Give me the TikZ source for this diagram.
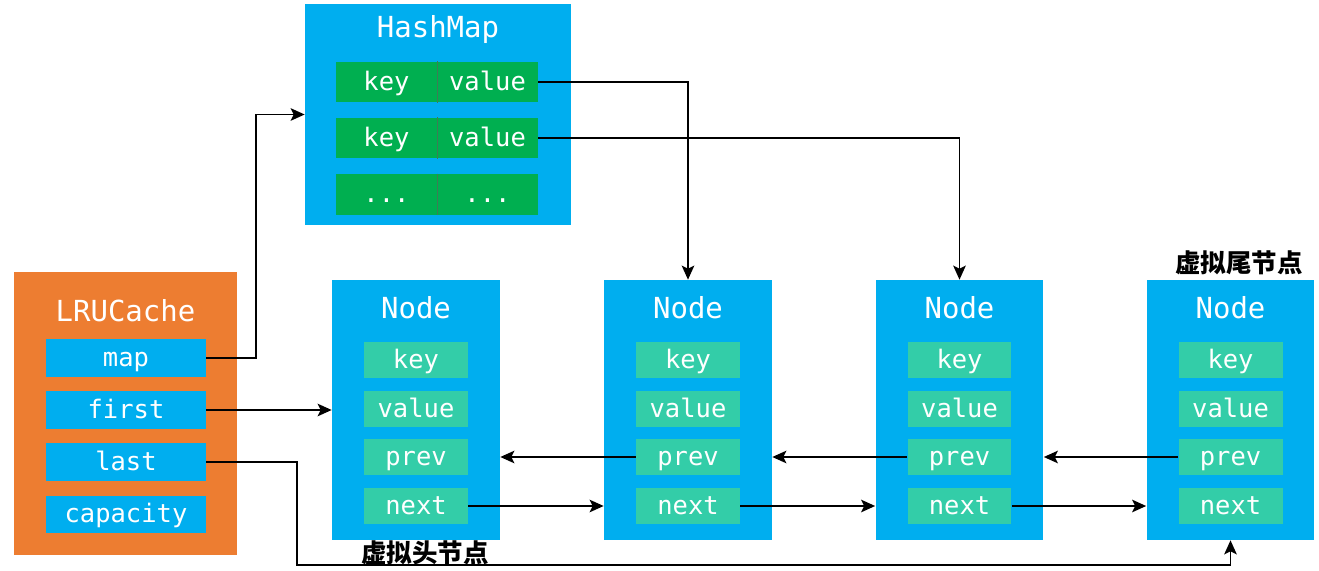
\documentclass[tikz,border=0pt]{standalone}
\usepackage{fontspec}
\setmonofont{DejaVu Sans Mono}
\newfontfamily\cjk{Noto Sans CJK SC}
\usetikzlibrary{arrows.meta, calc}
\definecolor{panelblue} {HTML}{00AEEF}
\definecolor{cacheorange}{HTML}{ED7D31}
\definecolor{mapgreen}  {HTML}{00AF50}
\definecolor{fieldteal} {HTML}{33CDA8}
\definecolor{divider}   {HTML}{3E7D55}

\tikzset{
  panel/.style={fill=panelblue, inner sep=0pt},
  title/.style={text=white, font=\ttfamily\fontsize{16.5}{18}\selectfont},
  field/.style={fill=fieldteal, text=white, inner sep=0pt,
    minimum width=2.08cm, minimum height=0.72cm,
    text height=9.5pt, text depth=0pt,
    font=\ttfamily\fontsize{14.5}{16}\selectfont},
  cachefield/.style={field, fill=panelblue, minimum width=3.2cm, minimum height=0.76cm},
  mapcell/.style={field, fill=mapgreen, minimum width=2.02cm, minimum height=0.82cm},
  link/.style={draw=black, line width=1.1pt, -{Stealth[length=2.8mm, width=2.5mm, inset=0.6mm]}},
  tag/.style={font=\cjk\bfseries\fontsize{14.5}{16}\selectfont}
}

\begin{document}
\begin{tikzpicture}[x=0.02cm, y=-0.02cm]
    \useasboundingbox (0, 0) rectangle (1319, 571);

    % --- LRUCache -----------------------------------------------------------
    \node[panel, fill=cacheorange, minimum width=4.46cm, minimum height=5.66cm] (lru) at (125.5, 413.5) {};
    \node[title] (lrutitle) at (125.5, 311) {LRUCache};
    \node[cachefield] (lmap)   at (126, 358)   {map};
    \node[cachefield] (lfirst) at (126, 410)   {first};
    \node[cachefield] (llast)  at (126, 462)   {last};
    \node[cachefield] (lcap)   at (126, 514.5) {capacity};

    % --- HashMap ------------------------------------------------------------
    \node[panel, minimum width=5.32cm, minimum height=4.42cm] (hmap) at (438, 114.5) {};
    \node[title] (hmaptitle) at (438, 30) {HashMap};
    \node[mapcell] (hk1) at (386.5, 82)    {key};
    \node[mapcell] (hv1) at (487.5, 82)    {value};
    \node[mapcell] (hk2) at (386.5, 138)   {key};
    \node[mapcell] (hv2) at (487.5, 138)   {value};
    \node[mapcell] (hk3) at (386.5, 194.5) {...};
    \node[mapcell] (hv3) at (487.5, 194.5) {...};
    \draw[divider, line width=0.6pt] (hk1.north east) -- (hk1.south east);
    \draw[divider, line width=0.6pt] (hk2.north east) -- (hk2.south east);
    \draw[divider, line width=0.6pt] (hk3.north east) -- (hk3.south east);

    % --- the list nodes -----------------------------------------------------
    \foreach \n/\x in {n1/416, n2/688, n3/959.5, n4/1230.5} {
      \node[panel, minimum width=3.36cm, minimum height=5.2cm] (\n) at (\x, 410) {};
      \node[title] (\n title) at (\x, 308) {Node};
      \node[field] (\n key)  at (\x, 360) {key};
      \node[field] (\n val)  at (\x, 409) {value};
      \node[field] (\n prev) at (\x, 457) {prev};
      \node[field] (\n next) at (\x, 506) {next};
    }
    \node[tag] (tailtag) at (1239, 263) {虚拟尾节点};
    \node[tag] (headtag) at (425, 553)  {虚拟头节点};

    % --- connectors ---------------------------------------------------------
    \draw[link] (lmap.east) -- ++(50, 0) |- (hmap.west);
    \draw[link] (lfirst.east) -- (n1.west);
    \draw[link] (llast.east) -- ++(91, 0) -- ++(0, 103) -| (n4.south);
    \draw[link] (hv1.east) -| (n2.north);
    \draw[link] (hv2.east) -| (n3.north);

    \draw[link] (n1next.east) -- (n1next.east -| n2.west);
    \draw[link] (n2next.east) -- (n2next.east -| n3.west);
    \draw[link] (n3next.east) -- (n3next.east -| n4.west);
    \draw[link] (n2prev.west) -- (n2prev.west -| n1.east);
    \draw[link] (n3prev.west) -- (n3prev.west -| n2.east);
    \draw[link] (n4prev.west) -- (n4prev.west -| n3.east);
  \end{tikzpicture}
\end{document}
